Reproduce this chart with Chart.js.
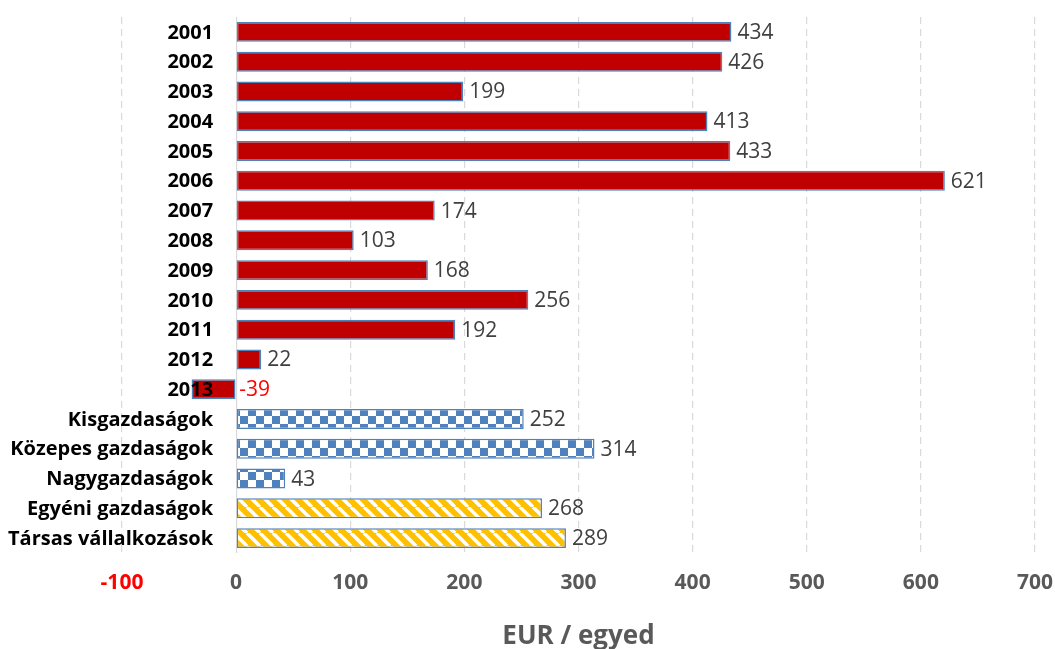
<!DOCTYPE html>
<html>
<head>
<meta charset="utf-8">
<script src="https://cdn.jsdelivr.net/npm/chart.js@4"></script>
<style>
  body { margin: 0; background: #fff; }
  #wrap { width: 1055px; height: 649px; }
</style>
</head>
<body>
<div id="wrap"><canvas id="chart" width="1055" height="649"></canvas></div>
<script>
// data
const years = ["2001", "2002", "2003", "2004", "2005", "2006", "2007", "2008", "2009", "2010", "2011", "2012", "2013"];
const yearValues = [434, 426, 199, 413, 433, 621, 174, 103, 168, 256, 192, 22, -39];
const sizeGroups = ["Kisgazdaságok", "Közepes gazdaságok", "Nagygazdaságok"];
const sizeValues = [252, 314, 43];
const formGroups = ["Egyéni gazdaságok", "Társas vállalkozások"];
const formValues = [268, 289];
const xTicks = [-100, 0, 100, 200, 300, 400, 500, 600, 700];
const axisTitle = "EUR / egyed";

const labels = years.concat(sizeGroups, formGroups);
const values = yearValues.concat(sizeValues, formValues);

const makeChecker = () => {
    const c = document.createElement("canvas");
    c.width = 16;
    c.height = 16;
    const g = c.getContext("2d");
    g.fillStyle = "#ffffff";
    g.fillRect(0, 0, 16, 16);
    g.fillStyle = "#4F81BD";
    g.fillRect(0, 0, 8, 8);
    g.fillRect(8, 8, 8, 8);
    return g.createPattern(c, "repeat");
};

const makeStripes = () => {
    const n = 13;
    const c = document.createElement("canvas");
    c.width = n;
    c.height = n;
    const g = c.getContext("2d");
    g.fillStyle = "#FFC000";
    g.fillRect(0, 0, n, n);
    g.strokeStyle = "#ffffff";
    g.lineWidth = 3.5;
    // "\" direction stripes
    for (let k = -1; k <= 1; k++) {
        g.beginPath();
        g.moveTo(k * n, 0);
        g.lineTo(k * n + n, n);
        g.stroke();
    }
    return g.createPattern(c, "repeat");
};

const checker = makeChecker();
const stripes = makeStripes();

const fills = labels.map((l, i) => {
    if (i < years.length) return "#C00000";
    if (i < years.length + sizeGroups.length) return checker;
    return stripes;
});

const FONT = "'Open Sans', 'DejaVu Sans', sans-serif";

const labelPlugin = {
    id: "barLabels",
    afterDatasetsDraw(chart) {
        const ctx = chart.ctx;
        const xScale = chart.scales.x;
        const zero = xScale.getPixelForValue(0);
        const meta = chart.getDatasetMeta(0);
        ctx.save();
        ctx.textBaseline = "middle";
        meta.data.forEach((bar, i) => {
            const v = values[i];
            // value label
            ctx.font = "21px " + FONT;
            ctx.textAlign = "left";
            ctx.fillStyle = v < 0 ? "#FF0000" : "#404040";
            const x = Math.max(bar.x, bar.base) + 6;
            ctx.fillText(String(v), v < 0 ? zero + 3 : x, bar.y + 1);
            // category label
            ctx.font = "bold 20px " + FONT;
            ctx.textAlign = "right";
            ctx.fillStyle = "#000000";
            ctx.fillText(labels[i], zero - 23, bar.y + 1);
        });
        ctx.restore();
    },
};

new Chart(document.getElementById("chart").getContext("2d"), {
    type: "bar",
    data: {
        labels: labels,
        datasets: [{
            data: values,
            backgroundColor: fills,
            borderColor: "#4F81BD",
            borderWidth: 1.5,
            borderSkipped: false,
            barPercentage: 0.67,
            categoryPercentage: 1,
        }],
    },
    options: {
        indexAxis: "y",
        responsive: false,
        animation: false,
        layout: { padding: { left: 122, right: 20, top: 17, bottom: 0 } },
        plugins: {
            legend: { display: false },
            tooltip: { enabled: false },
        },
        scales: {
            x: {
                min: xTicks[0],
                max: xTicks[xTicks.length - 1],
                afterBuildTicks: (scale) => {
                    scale.ticks = xTicks.map((v) => ({ value: v }));
                },
                afterFit: (scale) => {
                    scale.height = 96;
                    scale.paddingLeft = 0;
                    scale.paddingRight = 0;
                },
                grid: {
                    color: "#D9D9D9",
                    lineWidth: 1.2,
                    drawTicks: false,
                },
                border: {
                    display: false,
                    dash: (c) => (c.tick && c.tick.value === 0 ? [] : [7, 5]),
                },
                ticks: {
                    padding: 17,
                    maxRotation: 0,
                    font: { family: FONT, size: 21, weight: "bold" },
                    color: (c) => (c.tick && c.tick.value < 0 ? "#FF0000" : "#595959"),
                },
                title: {
                    display: true,
                    text: axisTitle,
                    color: "#595959",
                    font: { family: FONT, size: 26, weight: "bold", lineHeight: 0.95 },
                    padding: { top: 20, bottom: 0 },
                },
            },
            y: {
                display: false,
            },
        },
    },
    plugins: [labelPlugin],
});
</script>
</body>
</html>
